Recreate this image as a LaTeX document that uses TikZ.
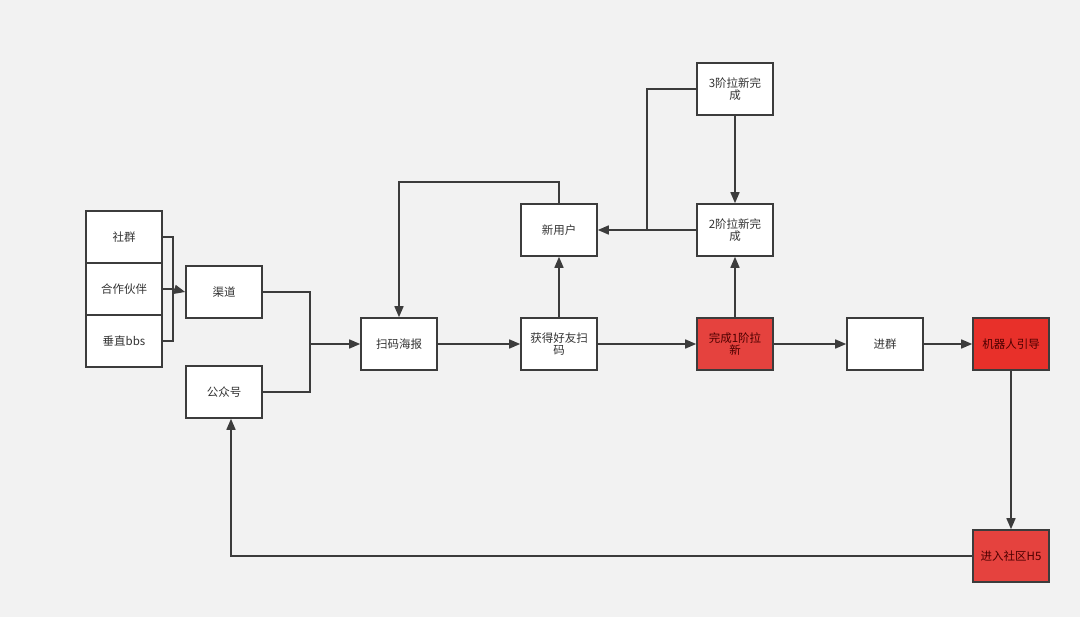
\documentclass[tikz,border=0pt]{standalone}
\usepackage{fontspec}
\setmainfont{Noto Sans CJK SC}
\usetikzlibrary{arrows.meta,positioning}
\definecolor{bgcol}{HTML}{F2F2F2}
\definecolor{linecol}{HTML}{3C3C3C}
\definecolor{redbox}{HTML}{E5423E}
\definecolor{redboxb}{HTML}{E8302A}
\definecolor{txtcol}{HTML}{333333}

\tikzset{
    flowbox/.style={draw=linecol, line width=1.6pt, fill=white, minimum width=76pt, minimum height=52pt,
        inner sep=1pt, align=center, text=txtcol, font=\fontsize{11.5}{12.5}\selectfont},
    hotbox/.style={flowbox, fill=redbox, text=black!70!red},
    conn/.style={draw=linecol, line width=1.6pt},
    arr/.style={conn, -{Triangle[length=11pt,width=9pt]}}
}

\begin{document}
\begin{tikzpicture}[x=1pt,y=-1pt]
    \fill[bgcol] (0,0) rectangle (1080,617);
    \useasboundingbox (0,0) rectangle (1080,617);

    % sources
    \node[flowbox] (shequn) at (124,237) {社群};
    \node[flowbox] (huoban) at (124,289) {合作伙伴};
    \node[flowbox] (bbs) at (124,341) {垂直bbs};
    \node[flowbox] (qudao) at (224,292) {渠道};
    \node[flowbox] (gzh) at (224,392) {公众号};

    % main flow
    \node[flowbox] (haibao) at (399,344) {扫码海报};
    \node[flowbox] (saoma) at (559,344) {获得好友扫\\码};
    \node[flowbox] (newuser) at (559,230) {新用户};
    \node[flowbox] (lv3) at (735,89) {3阶拉新完\\成};
    \node[flowbox] (lv2) at (735,230) {2阶拉新完\\成};
    \node[hotbox] (lv1) at (735,344) {完成1阶拉\\新};
    \node[flowbox] (jinqun) at (885,344) {进群};
    \node[hotbox, fill=redboxb] (robot) at (1011,344) {机器人引导};
    \node[hotbox] (h5) at (1011,556) {进入社区H5};

    \coordinate (brk) at (173,289);
    \coordinate (merge) at (310,344);
    \coordinate (join) at (647,230);

    \draw[conn] (shequn.east) -| (brk) |- (bbs.east);
    \draw[arr] (huoban.east) -- (brk) -- (qudao.west);
    \draw[conn] (qudao.east) -| (merge);
    \draw[conn] (gzh.east) -| (merge);
    \draw[arr] (merge) -- (haibao.west);
    \draw[arr] (haibao) -- (saoma);
    \draw[arr] (saoma) -- (newuser);
    \draw[arr] (newuser.north) |- (399,182) -- (haibao.north);
    \draw[arr] (saoma) -- (lv1);
    \draw[arr] (lv1) -- (lv2);
    \draw[arr] (lv3) -- (lv2);
    \draw[arr] (lv2) -- (newuser);
    \draw[conn] (lv3.west) -| (join);
    \draw[arr] (lv1) -- (jinqun);
    \draw[arr] (jinqun) -- (robot);
    \draw[arr] (robot) -- (h5);
    \draw[arr] (h5.west) -| ([xshift=7pt]gzh.south);
\end{tikzpicture}
\end{document}
